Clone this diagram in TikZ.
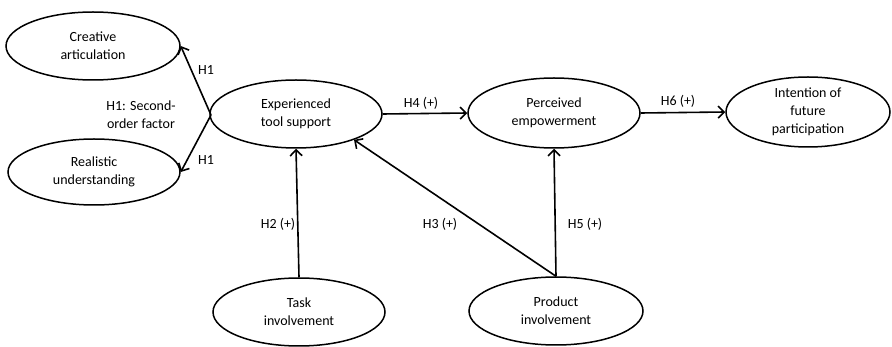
\documentclass[tikz,border=0pt]{standalone}
\usepackage{fontspec}
\setmainfont{Carlito}
\usetikzlibrary{shapes.geometric,arrows.meta}
\begin{document}
\begin{tikzpicture}[x=1pt,y=-1pt,
  construct/.style={ellipse,draw,line width=1.5pt,inner sep=0pt,align=center,font=\fontsize{14}{18}\selectfont},
  link/.style={line width=1.6pt,-{Straight Barb[length=6pt,width=12pt,line width=1.6pt]}},
  lab/.style={font=\fontsize{14}{18}\selectfont,align=center,inner sep=0pt}]
\useasboundingbox (0,0) rectangle (892,347);
\node[construct,minimum width=174pt,minimum height=68pt] (ca) at (93,46) {Creative\\articulation};
\node[construct,minimum width=172pt,minimum height=66pt] (ru) at (94,172) {Realistic\\understanding};
\node[construct,minimum width=172pt,minimum height=68pt] (ets) at (296,114) {Experienced\\tool support};
\node[construct,minimum width=172pt,minimum height=70pt] (pe) at (554,113) {Perceived\\empowerment};
\node[construct,minimum width=164pt,minimum height=70pt] (ifp) at (808,112) {Intention of\\future\\participation};
\node[construct,minimum width=172pt,minimum height=68pt] (ti) at (299,312) {Task\\involvement};
\node[construct,minimum width=174pt,minimum height=68pt] (pi) at (556,311) {Product\\involvement};
\coordinate (j) at (211,115);
\draw[link] (j) -- (ca.east);
\draw[link] (j) -- (ru.east);
\draw[link] (ets.east) -- (pe.west);
\draw[link] (pe.east) -- (ifp.west);
\draw[link] (ti.north) -- (ets.south);
\draw[link] (pi.north) -- (pe.south);
\draw[link] (pi.north) -- (ets.-24);
\node[lab] (l1a) at (206,70) {H1};
\node[lab] (l1b) at (206,160) {H1};
\node[lab] (l1c) at (141,115) {H1: Second-\\order factor};
\node[lab] (l4) at (421,103) {H4 (+)};
\node[lab] (l6) at (678,101) {H6 (+)};
\node[lab] (l2) at (278,224) {H2 (+)};
\node[lab] (l3) at (440,224) {H3 (+)};
\node[lab] (l5) at (585,224) {H5 (+)};
\end{tikzpicture}
\end{document}
